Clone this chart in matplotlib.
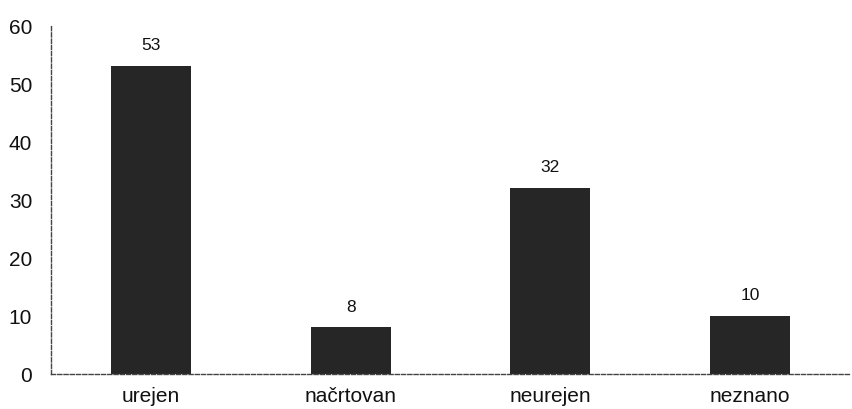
import matplotlib
matplotlib.use("Agg")
import matplotlib.pyplot as plt

categories = ["urejen", "načrtovan", "neurejen", "neznano"]
values = [53, 8, 32, 10]
yticks = [0, 10, 20, 30, 40, 50, 60]

plt.rcParams['font.family'] = ['Liberation Sans', 'DejaVu Sans']

fig = plt.figure(figsize=(8.52, 4.10), dpi=100)
ax = fig.add_axes([51/852, 1-375/410, (850-51)/852, (375-26)/410])
x = range(len(categories))
bars = ax.bar(x, values, width=0.4, color="#262626")
for xi, v in zip(x, values):
    ax.annotate(str(v), (xi, v), xytext=(0, 10), textcoords="offset points",
                ha="center", va="bottom", fontsize=12.5, color="#111111")
ax.set_xlim(-0.5, len(categories) - 0.5)
ax.set_ylim(0, 60)
ax.set_yticks(yticks)
ax.set_xticks(list(x))
ax.set_xticklabels(categories)
ax.tick_params(axis="both", length=0, labelsize=15, colors="#111111")
ax.tick_params(axis="y", pad=13.5)
ax.tick_params(axis="x", pad=8.5)
for s in ["top", "right"]:
    ax.spines[s].set_visible(False)
for s in ["left", "bottom"]:
    ax.spines[s].set_linestyle((0, (3, 1.5)))
    ax.spines[s].set_color("#444444")
    ax.spines[s].set_linewidth(1.0)
fig.savefig("out.png", dpi=100)
